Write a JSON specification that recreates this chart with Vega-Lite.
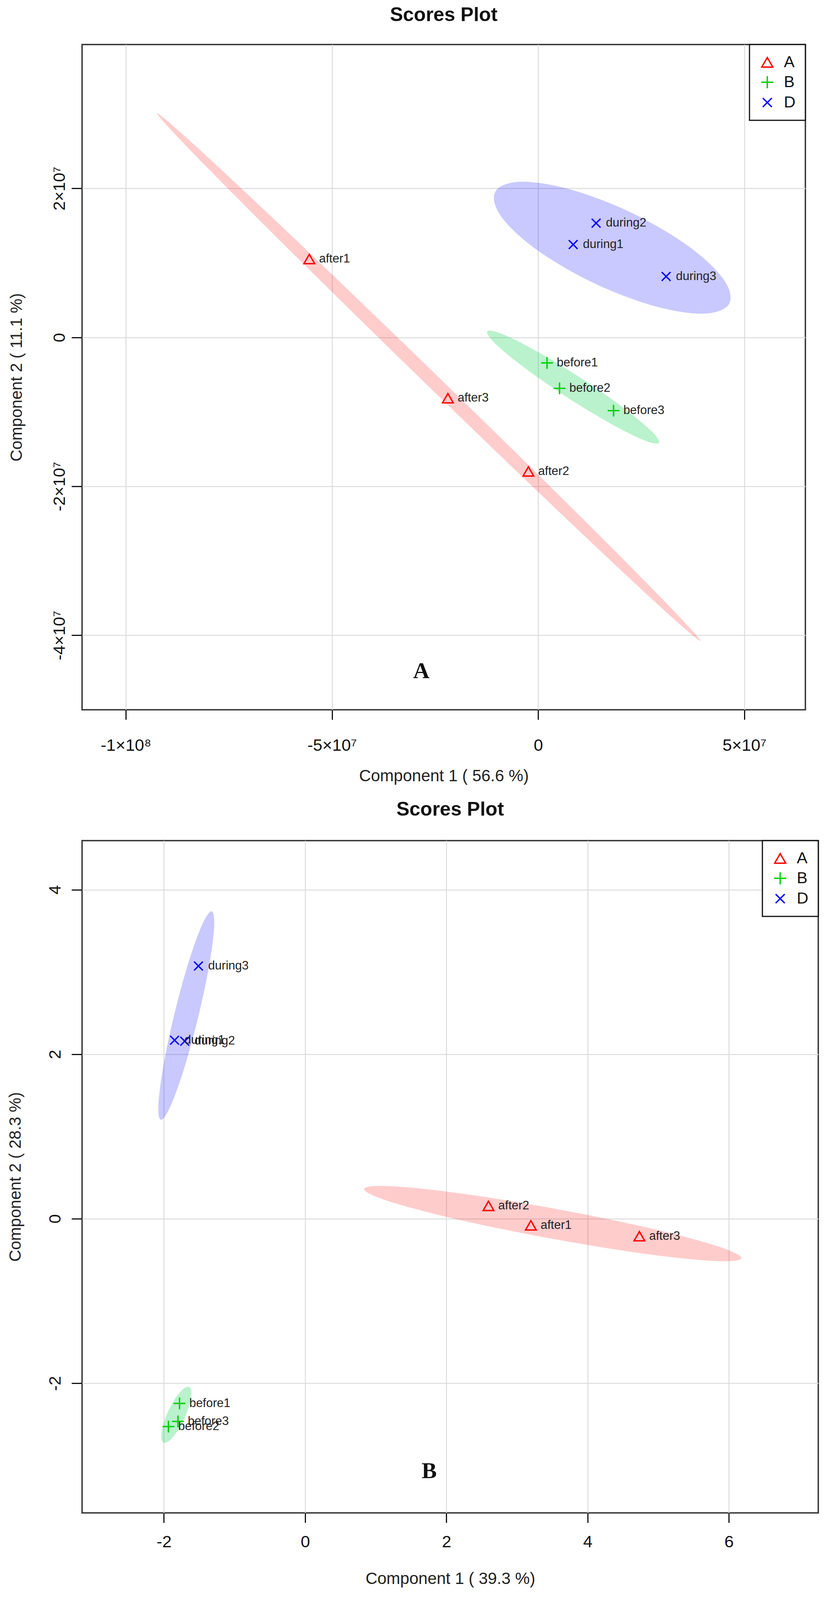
{
  "$schema": "https://vega.github.io/schema/vega-lite/v6.json",
  "background": "white",
  "padding": {"left": 16, "top": 11, "right": 0, "bottom": 0},
  "config": {
    "font": "Liberation Sans",
    "view": {"stroke": "#333333", "strokeWidth": 3.5},
    "axis": {
      "domain": false,
      "grid": true,
      "gridColor": "#dcdcdc",
      "gridWidth": 2.5,
      "tickColor": "#111111",
      "tickSize": 27,
      "tickWidth": 3,
      "labelFont": "Liberation Sans",
      "labelFontSize": 43,
      "labelColor": "#111111",
      "labelFlush": false,
      "labelOverlap": false,
      "titleFont": "Liberation Sans",
      "titleFontSize": 42,
      "titleFontWeight": "normal",
      "titleColor": "#222222"
    },
    "title": {"font": "Liberation Sans", "fontSize": 50, "fontWeight": "bold", "color": "#111111", "anchor": "middle", "frame": "group", "baseline": "alphabetic"},
    "legend": {
      "orient": "top-right",
      "offset": 0,
      "strokeColor": "#111111",
      "strokeWidth": 3,
      "fillColor": "white",
      "padding": 25,
      "rowPadding": 7,
      "labelOffset": 22,
      "labelFont": "Liberation Sans",
      "labelFontSize": 41,
      "labelColor": "#111111",
      "symbolSize": 800,
      "symbolStrokeWidth": 3.5
    }
  },
  "datasets": {
    "ptsA": [
      {"name": "after1", "grp": "A", "x": -5.55e7, "y": 1.052e7},
      {"name": "after2", "grp": "A", "x": -2.37e6, "y": -1.80e7},
      {"name": "after3", "grp": "A", "x": -2.189e7, "y": -8.16e6},
      {"name": "before1", "grp": "B", "x": 2.15e6, "y": -3.43e6},
      {"name": "before2", "grp": "B", "x": 5.19e6, "y": -6.85e6},
      {"name": "before3", "grp": "B", "x": 1.829e7, "y": -9.84e6},
      {"name": "during1", "grp": "D", "x": 8.49e6, "y": 1.247e7},
      {"name": "during2", "grp": "D", "x": 1.406e7, "y": 1.534e7},
      {"name": "during3", "grp": "D", "x": 3.104e7, "y": 8.18e6}
    ],
    "ptsB": [
      {"name": "after1", "grp": "A", "x": 3.196, "y": -0.081},
      {"name": "after2", "grp": "A", "x": 2.596, "y": 0.156},
      {"name": "after3", "grp": "A", "x": 4.733, "y": -0.2125},
      {"name": "before1", "grp": "B", "x": -1.779, "y": -2.245},
      {"name": "before2", "grp": "B", "x": -1.936, "y": -2.527},
      {"name": "before3", "grp": "B", "x": -1.801, "y": -2.464},
      {"name": "during1", "grp": "D", "x": -1.849, "y": 2.170},
      {"name": "during2", "grp": "D", "x": -1.705, "y": 2.158},
      {"name": "during3", "grp": "D", "x": -1.511, "y": 3.072}
    ],
    "ellA": [
      {"grp": "A", "i": 0, "x": -9.243e7, "y": 3.010e7},
      {"grp": "A", "i": 1, "x": -8.2981e7, "y": 2.5653e7},
      {"grp": "A", "i": 2, "x": -5.8414e7, "y": 1.2908e7},
      {"grp": "A", "i": 3, "x": -2.5305e7, "y": -4.725e6},
      {"grp": "A", "i": 4, "x": 7.472e6, "y": -2.2518e7},
      {"grp": "A", "i": 5, "x": 3.1131e7, "y": -3.5703e7},
      {"grp": "A", "i": 6, "x": 3.934e7, "y": -4.075e7},
      {"grp": "A", "i": 7, "x": 2.9891e7, "y": -3.6303e7},
      {"grp": "A", "i": 8, "x": 5.324e6, "y": -2.3558e7},
      {"grp": "A", "i": 9, "x": -2.7785e7, "y": -5.925e6},
      {"grp": "A", "i": 10, "x": -6.0562e7, "y": 1.1868e7},
      {"grp": "A", "i": 11, "x": -8.4221e7, "y": 2.5053e7},
      {"grp": "D", "i": 0, "x": 4.6285e7, "y": 4.475e6},
      {"grp": "D", "i": 1, "x": 4.0006e7, "y": 3.182e6},
      {"grp": "D", "i": 2, "x": 2.7825e7, "y": 4.261e6},
      {"grp": "D", "i": 3, "x": 1.3001e7, "y": 7.426e6},
      {"grp": "D", "i": 4, "x": -4.91e5, "y": 1.1827e7},
      {"grp": "D", "i": 5, "x": -9.036e6, "y": 1.6284e7},
      {"grp": "D", "i": 6, "x": -1.0345e7, "y": 1.9605e7},
      {"grp": "D", "i": 7, "x": -4.066e6, "y": 2.0898e7},
      {"grp": "D", "i": 8, "x": 8.115e6, "y": 1.9819e7},
      {"grp": "D", "i": 9, "x": 2.2939e7, "y": 1.6654e7},
      {"grp": "D", "i": 10, "x": 3.6431e7, "y": 1.2253e7},
      {"grp": "D", "i": 11, "x": 4.4976e7, "y": 7.796e6},
      {"grp": "B", "i": 0, "x": 2.930e7, "y": -1.417e7},
      {"grp": "B", "i": 1, "x": 2.564e7, "y": -1.3796e7},
      {"grp": "B", "i": 2, "x": 1.7383e7, "y": -1.1516e7},
      {"grp": "B", "i": 3, "x": 6.74e6, "y": -7.94e6},
      {"grp": "B", "i": 4, "x": -3.437e6, "y": -4.026e6},
      {"grp": "B", "i": 5, "x": -1.042e7, "y": -8.24e5},
      {"grp": "B", "i": 6, "x": -1.234e7, "y": 8.1e5},
      {"grp": "B", "i": 7, "x": -8.68e6, "y": 4.36e5},
      {"grp": "B", "i": 8, "x": -4.23e5, "y": -1.844e6},
      {"grp": "B", "i": 9, "x": 1.022e7, "y": -5.42e6},
      {"grp": "B", "i": 10, "x": 2.0397e7, "y": -9.334e6},
      {"grp": "B", "i": 11, "x": 2.738e7, "y": -1.2536e7}
    ],
    "ellB": [
      {"grp": "A", "i": 0, "x": 6.178, "y": -0.4812},
      {"grp": "A", "i": 1, "x": 5.7975, "y": -0.5142},
      {"grp": "A", "i": 2, "x": 4.803, "y": -0.4253},
      {"grp": "A", "i": 3, "x": 3.461, "y": -0.2384},
      {"grp": "A", "i": 4, "x": 2.131, "y": -0.0035},
      {"grp": "A", "i": 5, "x": 1.1695, "y": 0.2164},
      {"grp": "A", "i": 6, "x": 0.834, "y": 0.3624},
      {"grp": "A", "i": 7, "x": 1.2145, "y": 0.3954},
      {"grp": "A", "i": 8, "x": 2.209, "y": 0.3065},
      {"grp": "A", "i": 9, "x": 3.551, "y": 0.1196},
      {"grp": "A", "i": 10, "x": 4.881, "y": -0.1153},
      {"grp": "A", "i": 11, "x": 5.8425, "y": -0.3352},
      {"grp": "D", "i": 0, "x": -1.323, "y": 3.737},
      {"grp": "D", "i": 1, "x": -1.2883, "y": 3.5525},
      {"grp": "D", "i": 2, "x": -1.3594, "y": 3.078},
      {"grp": "D", "i": 3, "x": -1.5172, "y": 2.4406},
      {"grp": "D", "i": 4, "x": -1.7194, "y": 1.811},
      {"grp": "D", "i": 5, "x": -1.9119, "y": 1.3581},
      {"grp": "D", "i": 6, "x": -2.043, "y": 1.203},
      {"grp": "D", "i": 7, "x": -2.0777, "y": 1.3875},
      {"grp": "D", "i": 8, "x": -2.0066, "y": 1.862},
      {"grp": "D", "i": 9, "x": -1.8488, "y": 2.4994},
      {"grp": "D", "i": 10, "x": -1.6466, "y": 3.129},
      {"grp": "D", "i": 11, "x": -1.4541, "y": 3.5819},
      {"grp": "B", "i": 0, "x": -1.644, "y": -2.044},
      {"grp": "B", "i": 1, "x": -1.6096, "y": -2.1089},
      {"grp": "B", "i": 2, "x": -1.6327, "y": -2.2473},
      {"grp": "B", "i": 3, "x": -1.707, "y": -2.422},
      {"grp": "B", "i": 4, "x": -1.8127, "y": -2.5863},
      {"grp": "B", "i": 5, "x": -1.9214, "y": -2.6961},
      {"grp": "B", "i": 6, "x": -2.004, "y": -2.722},
      {"grp": "B", "i": 7, "x": -2.0384, "y": -2.6571},
      {"grp": "B", "i": 8, "x": -2.0153, "y": -2.5187},
      {"grp": "B", "i": 9, "x": -1.941, "y": -2.344},
      {"grp": "B", "i": 10, "x": -1.8353, "y": -2.1797},
      {"grp": "B", "i": 11, "x": -1.7266, "y": -2.0699}
    ],
    "tagA": [{"lab": "A", "x": -2.833e7, "y": -4.486e7}],
    "tagB": [{"lab": "B", "x": 1.756, "y": -3.075}]
  },
  "vconcat": [
    {
      "width": 1851,
      "height": 1703,
      "title": {"text": "Scores Plot", "offset": 49},
      "encoding": {
        "x": {
          "field": "x", "type": "quantitative",
          "scale": {"domain": [-1.1061e8, 6.481e7], "nice": false, "zero": false},
          "axis": {
            "title": "Component 1 ( 56.6 %)",
            "values": [-100000000, -50000000, 0, 50000000],
            "labelExpr": "datum.value == 0 ? '0' : datum.value == -100000000 ? '-1×10⁸' : datum.value == -50000000 ? '-5×10⁷' : '5×10⁷'",
            "tickSize": 25,
            "labelBaseline": "alphabetic",
            "labelPadding": 79,
            "titleY": 182,
            "titleBaseline": "alphabetic"
          }
        },
        "y": {
          "field": "y", "type": "quantitative",
          "scale": {"domain": [-5.0e7, 3.932e7], "nice": false, "zero": false},
          "axis": {
            "title": "Component 2 ( 11.1 %)",
            "values": [-40000000, -20000000, 0, 20000000],
            "labelExpr": "datum.value == 0 ? '0' : datum.value == 20000000 ? '2×10⁷' : datum.value == -20000000 ? '-2×10⁷' : '-4×10⁷'",
            "labelAngle": 270,
            "labelAlign": "center",
            "labelBaseline": "alphabetic",
            "labelPadding": 17.6,
            "titleAngle": 270,
            "titleAlign": "center",
            "titleBaseline": "alphabetic",
            "titleX": -155,
            "titleY": 851.5
          }
        }
      },
      "layer": [
        {
          "data": {"name": "ellA"},
          "transform": [{"filter": "datum.grp === 'A'"}],
          "mark": {"type": "line", "interpolate": "cardinal-closed", "fill": "#ff0000", "fillOpacity": 0.2, "strokeOpacity": 0},
          "encoding": {"order": {"field": "i"}}
        },
        {
          "data": {"name": "ellA"},
          "transform": [{"filter": "datum.grp === 'D'"}],
          "mark": {"type": "line", "interpolate": "cardinal-closed", "fill": "#0000ff", "fillOpacity": 0.21, "strokeOpacity": 0},
          "encoding": {"order": {"field": "i"}}
        },
        {
          "data": {"name": "ellA"},
          "transform": [{"filter": "datum.grp === 'B'"}],
          "mark": {"type": "line", "interpolate": "cardinal-closed", "fill": "#05d049", "fillOpacity": 0.28, "strokeOpacity": 0},
          "encoding": {"order": {"field": "i"}}
        },
        {
          "data": {"name": "ptsA"},
          "mark": {"type": "point", "filled": false, "strokeWidth": 3.5, "size": 750, "opacity": 1},
          "encoding": {
            "color": {"field": "grp", "type": "nominal", "scale": {"domain": ["A", "B", "D"], "range": ["#ff0000", "#00cd00", "#0000ff"]}, "legend": {"title": null}},
            "shape": {"field": "grp", "type": "nominal", "scale": {"domain": ["A", "B", "D"], "range": ["triangle-up", "M-1.1,0L1.1,0M0,-1.1L0,1.1", "M-0.82,-0.82L0.82,0.82M-0.82,0.82L0.82,-0.82"]}, "legend": {"title": null}}
          }
        },
        {
          "data": {"name": "ptsA"},
          "mark": {"type": "text", "align": "left", "baseline": "middle", "dx": 25, "fontSize": 31, "font": "Liberation Sans", "color": "#222222"},
          "encoding": {"text": {"field": "name"}}
        },
        {
          "data": {"name": "tagA"},
          "mark": {"type": "text", "align": "center", "baseline": "middle", "font": "Liberation Serif", "fontWeight": "bold", "fontSize": 58, "color": "#111111"},
          "encoding": {"text": {"field": "lab"}}
        }
      ]
    },
    {
      "width": 1884,
      "height": 1721,
      "title": {"text": "Scores Plot", "offset": 52.6},
      "encoding": {
        "x": {
          "field": "x", "type": "quantitative",
          "scale": {"domain": [-3.159, 7.266], "nice": false, "zero": false},
          "axis": {
            "title": "Component 1 ( 39.3 %)",
            "values": [-2, 0, 2, 4, 6],
            "labelExpr": "datum.value < 0 ? '-' + abs(datum.value) : '' + datum.value",
            "tickSize": 25,
            "labelBaseline": "alphabetic",
            "labelPadding": 62,
            "titleY": 181,
            "titleBaseline": "alphabetic"
          }
        },
        "y": {
          "field": "y", "type": "quantitative",
          "scale": {"domain": [-3.576, 4.596], "nice": false, "zero": false},
          "axis": {
            "title": "Component 2 ( 28.3 %)",
            "values": [-2, 0, 2, 4],
            "labelExpr": "datum.value < 0 ? '-' + abs(datum.value) : '' + datum.value",
            "labelAngle": 270,
            "labelAlign": "center",
            "labelBaseline": "alphabetic",
            "labelPadding": 28.6,
            "titleAngle": 270,
            "titleAlign": "center",
            "titleBaseline": "alphabetic",
            "titleX": -158,
            "titleY": 860.5
          }
        }
      },
      "layer": [
        {
          "data": {"name": "ellB"},
          "transform": [{"filter": "datum.grp === 'A'"}],
          "mark": {"type": "line", "interpolate": "cardinal-closed", "fill": "#ff0000", "fillOpacity": 0.2, "strokeOpacity": 0},
          "encoding": {"order": {"field": "i"}}
        },
        {
          "data": {"name": "ellB"},
          "transform": [{"filter": "datum.grp === 'D'"}],
          "mark": {"type": "line", "interpolate": "cardinal-closed", "fill": "#0000ff", "fillOpacity": 0.21, "strokeOpacity": 0},
          "encoding": {"order": {"field": "i"}}
        },
        {
          "data": {"name": "ellB"},
          "transform": [{"filter": "datum.grp === 'B'"}],
          "mark": {"type": "line", "interpolate": "cardinal-closed", "fill": "#05d049", "fillOpacity": 0.28, "strokeOpacity": 0},
          "encoding": {"order": {"field": "i"}}
        },
        {
          "data": {"name": "ptsB"},
          "mark": {"type": "point", "filled": false, "strokeWidth": 3.5, "size": 750, "opacity": 1},
          "encoding": {
            "color": {"field": "grp", "type": "nominal", "scale": {"domain": ["A", "B", "D"], "range": ["#ff0000", "#00cd00", "#0000ff"]}, "legend": {"title": null}},
            "shape": {"field": "grp", "type": "nominal", "scale": {"domain": ["A", "B", "D"], "range": ["triangle-up", "M-1.1,0L1.1,0M0,-1.1L0,1.1", "M-0.82,-0.82L0.82,0.82M-0.82,0.82L0.82,-0.82"]}, "legend": {"title": null}}
          }
        },
        {
          "data": {"name": "ptsB"},
          "mark": {"type": "text", "align": "left", "baseline": "middle", "dx": 25, "fontSize": 31, "font": "Liberation Sans", "color": "#222222"},
          "encoding": {"text": {"field": "name"}}
        },
        {
          "data": {"name": "tagB"},
          "mark": {"type": "text", "align": "center", "baseline": "middle", "font": "Liberation Serif", "fontWeight": "bold", "fontSize": 58, "color": "#111111"},
          "encoding": {"text": {"field": "lab"}}
        }
      ]
    }
  ],
  "spacing": 335,
  "bounds": "flush",
  "resolve": {
    "scale": {"x": "independent", "y": "independent", "color": "independent", "shape": "independent"},
    "legend": {"color": "independent", "shape": "independent"}
  }
}
